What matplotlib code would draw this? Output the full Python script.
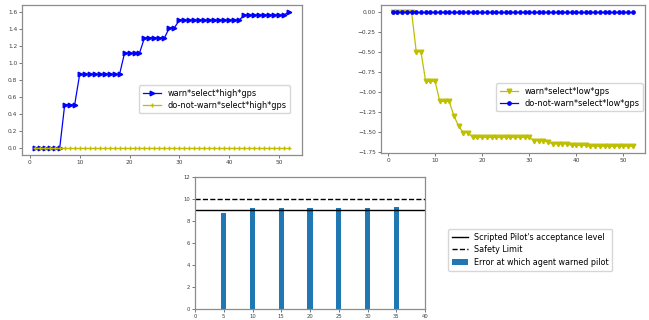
import numpy as np
import matplotlib.pyplot as plt

# x positions (episodes) for the two top charts
steps = list(range(1, 53))

warn_high = ([0.0] * 6 + [0.51] * 3 + [0.87] * 9 + [1.12] * 4 + [1.30] * 5 +
             [1.42] * 2 + [1.51] * 13 + [1.57] * 9 + [1.61])
nowarn_high = [0.0] * 52

warn_low = ([0.0] * 5 + [-0.50] * 2 + [-0.87] * 3 + [-1.12] * 3 + [-1.30] +
            [-1.43] + [-1.51] * 2 + [-1.57] * 13 + [-1.61] * 3 + [-1.63] +
            [-1.65] * 4 + [-1.67] * 4 + [-1.68] * 10)
nowarn_low = [0.0] * 52

# bottom chart
warn_steps = [5, 10, 15, 20, 25, 30, 35]
warn_errors = [8.7, 9.15, 9.15, 9.15, 9.15, 9.15, 9.25]
acceptance_level = 9
safety_limit = 10


def style(ax, fs=4.2):
    ax.tick_params(labelsize=fs, length=2, width=0.5, pad=1.5, colors='0.25')
    for s in ax.spines.values():
        s.set_color('0.55')
        s.set_linewidth(0.9)


fig = plt.figure(figsize=(6.49, 3.2), dpi=100)

# top left
ax1 = fig.add_axes([0.034, 0.516, 0.431, 0.469])
ax1.plot(steps, warn_high, color='b', marker='>', markersize=3.3, lw=0.9,
         label='warn*select*high*gps')
ax1.plot(steps, nowarn_high, color='y', marker='+', markersize=3.3, lw=0.9,
         label='do-not-warn*select*high*gps')
ax1.set_xticks([0, 10, 20, 30, 40, 50])
ax1.set_yticks(np.arange(0, 1.7, 0.2))
style(ax1)
ax1.legend(loc='upper left', bbox_to_anchor=(135 / 649, 1 - 81 / 320),
           bbox_transform=fig.transFigure, fontsize=5.9, borderpad=0.45,
           handlelength=2.2, labelspacing=0.35, framealpha=0.8)

# top right
ax2 = fig.add_axes([0.5866, 0.522, 0.407, 0.4625])
ax2.plot(steps, warn_low, color='y', marker='v', markersize=3.3, lw=0.9,
         label='warn*select*low*gps')
ax2.plot(steps, nowarn_low, color='b', marker='o', markersize=2.4, lw=0.9,
         label='do-not-warn*select*low*gps')
ax2.set_xticks([0, 10, 20, 30, 40, 50])
ax2.set_yticks(np.arange(-1.75, 0.01, 0.25))
style(ax2)
ax2.legend(loc='upper left', bbox_to_anchor=(492 / 649, 1 - 79 / 320),
           bbox_transform=fig.transFigure, fontsize=5.9, borderpad=0.45,
           handlelength=2.2, labelspacing=0.35, framealpha=0.8)

# bottom
ax3 = fig.add_axes([0.3005, 0.0344, 0.3544, 0.4125])
l1 = ax3.axhline(acceptance_level, color='k', lw=1,
                 label="Scripted Pilot's acceptance level")
l2 = ax3.axhline(safety_limit, color='k', lw=1, ls='--', label='Safety Limit')
b = ax3.bar(warn_steps, warn_errors, width=0.9, color='#1f77b4',
            label='Error at which agent warned pilot')
ax3.set_xlim(0, 40)
ax3.set_ylim(0, 12)
ax3.set_yticks(range(0, 13, 2))
style(ax3, fs=3.8)
fig.legend(handles=[l1, l2, b], loc='upper left',
           bbox_to_anchor=(444 / 649, 1 - 225 / 320), fontsize=5.8,
           borderpad=0.45, handlelength=2.0, labelspacing=0.45, framealpha=0.8)

plt.savefig('out.png', dpi=100)
